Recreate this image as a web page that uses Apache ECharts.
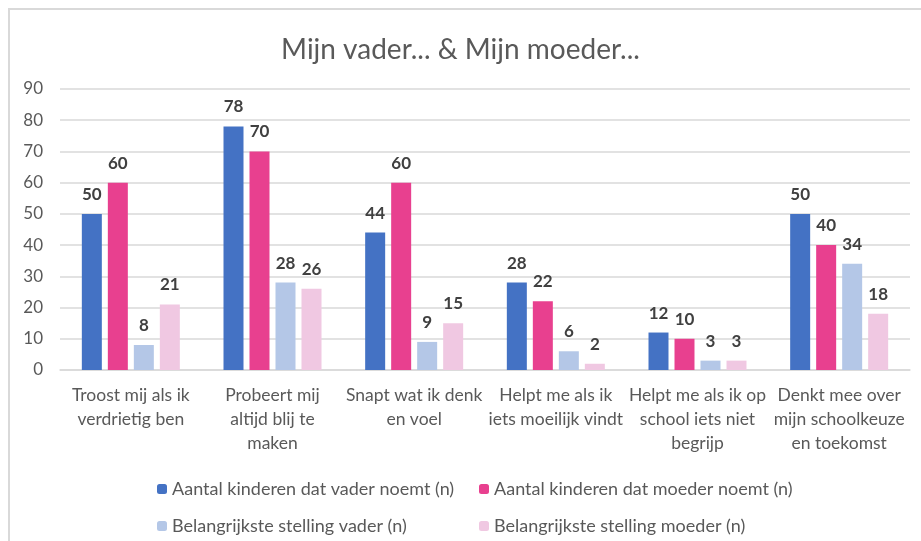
<!DOCTYPE html>
<html>
<head>
<meta charset="utf-8">
<script src="https://cdn.jsdelivr.net/npm/echarts@6/dist/echarts.min.js"></script>
<style>
  html, body { margin: 0; padding: 0; background: #fff; }
  #chart { width: 921px; height: 541px; }
</style>
</head>
<body>
<div id="chart"></div>
<script>
var categories = [
  'Troost mij als ik\nverdrietig ben',
  'Probeert mij\naltijd blij te\nmaken',
  'Snapt wat ik denk\nen voel',
  'Helpt me als ik\niets moeilijk vindt',
  'Helpt me als ik op\nschool iets niet\nbegrijp',
  'Denkt mee over\nmijn schoolkeuze\nen toekomst'
];
var vaderNoemt = [50, 78, 44, 28, 12, 50];
var moederNoemt = [60, 70, 60, 22, 10, 40];
var stellingVader = [8, 28, 9, 6, 3, 34];
var stellingMoeder = [21, 26, 15, 2, 3, 18];
var seriesNames = [
  'Aantal kinderen dat vader noemt (n)',
  'Aantal kinderen dat moeder noemt (n)',
  'Belangrijkste stelling vader (n)',
  'Belangrijkste stelling moeder (n)'
];
var colors = ['#4472C4', '#E8408F', '#B4C7E7', '#F0C8E2'];

var chart = echarts.init(document.getElementById('chart'));
var font = 'Lato, "Open Sans", sans-serif';

function bar(name, data, color) {
  return {
    name: name,
    type: 'bar',
    data: data,
    barWidth: 20,
    barGap: '30%',
    itemStyle: { color: color },
    label: {
      show: true,
      position: 'top',
      distance: 11,
      color: '#404040',
      fontWeight: 'bold',
      fontSize: 17,
      fontFamily: font
    }
  };
}

var option = {
  animation: false,
  textStyle: { fontFamily: font },
  graphic: [{
    type: 'rect',
    shape: { x: 9, y: 9, width: 930, height: 560 },
    style: { fill: 'none', stroke: '#d9d9d9', lineWidth: 2 }
  }],
  title: {
    text: 'Mijn vader... & Mijn moeder...',
    left: 'center',
    top: 31,
    textStyle: { color: '#595959', fontSize: 28, fontWeight: 'normal', fontFamily: font }
  },
  legend: [{
    orient: 'vertical',
    left: 152,
    top: 475,
    itemWidth: 10,
    itemHeight: 10,
    itemGap: 19,
    data: [seriesNames[0], seriesNames[2]],
    textStyle: { color: '#595959', fontSize: 18, fontFamily: font }
  }, {
    orient: 'vertical',
    left: 474,
    top: 475,
    itemWidth: 10,
    itemHeight: 10,
    itemGap: 19,
    data: [seriesNames[1], seriesNames[3]],
    textStyle: { color: '#595959', fontSize: 18, fontFamily: font }
  }],
  grid: { left: 60, right: 11, top: 89, bottom: 171 },
  xAxis: {
    type: 'category',
    data: categories,
    axisLine: { lineStyle: { color: '#d9d9d9', width: 1.5 } },
    axisTick: { show: false },
    axisLabel: {
      color: '#595959',
      fontSize: 17.5,
      lineHeight: 24,
      margin: 13,
      interval: 0,
      fontFamily: font
    }
  },
  yAxis: {
    type: 'value',
    min: 0,
    max: 90,
    interval: 10,
    axisLine: { show: false },
    axisTick: { show: false },
    splitLine: { lineStyle: { color: '#d9d9d9', width: 1.5 } },
    axisLabel: { color: '#595959', fontSize: 17, margin: 17, fontFamily: font }
  },
  series: [
    bar(seriesNames[0], vaderNoemt, colors[0]),
    bar(seriesNames[1], moederNoemt, colors[1]),
    bar(seriesNames[2], stellingVader, colors[2]),
    bar(seriesNames[3], stellingMoeder, colors[3])
  ]
};

chart.setOption(option);
</script>
</body>
</html>
